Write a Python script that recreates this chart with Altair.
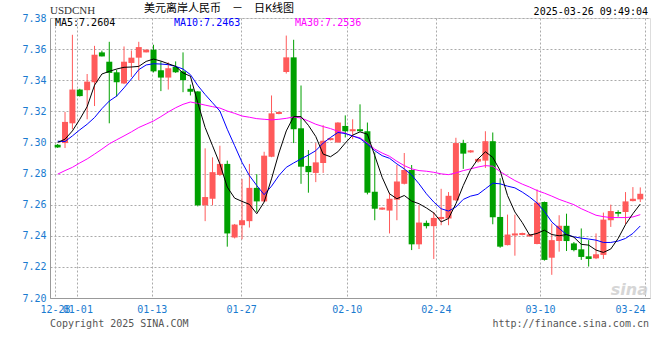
import json
import altair as alt
import pandas as pd

# ---------------- data ----------------
opens = [7.2985, 7.2996, 7.3123, 7.3340, 7.3336, 7.3387, 7.3579, 7.3519, 7.3451, 7.3379,
         7.3511, 7.3545, 7.3579, 7.3596, 7.3464, 7.3417, 7.3485, 7.3457, 7.3345, 7.3328,
         7.2596, 7.2638, 7.2791, 7.2862, 7.2389, 7.2468, 7.2494, 7.2708, 7.2621, 7.2908,
         7.3183, 7.3453, 7.3547, 7.3091, 7.2849, 7.2804, 7.2868, 7.3015, 7.3000, 7.3106,
         7.3072, 7.3085, 7.3072, 7.2683, 7.2568, 7.2562, 7.2632, 7.2734, 7.2823, 7.2345,
         7.2483, 7.2462, 7.2508, 7.2511, 7.2628, 7.2996, 7.2936, 7.2877, 7.2883, 7.3008,
         7.2521, 7.2340, 7.2402, 7.2405, 7.2396, 7.2347, 7.2617, 7.2259, 7.2366, 7.2464,
         7.2351, 7.2313, 7.2268, 7.2255, 7.2277, 7.2500, 7.2553, 7.2553, 7.2623, 7.2634]

closes = [7.2968, 7.3132, 7.3340, 7.3298, 7.3391, 7.3564, 7.3553, 7.3447, 7.3387, 7.3519,
          7.3545, 7.3613, 7.3596, 7.3457, 7.3417, 7.3477, 7.3451, 7.3400, 7.3326, 7.2596,
          7.2649, 7.2809, 7.2862, 7.2415, 7.2472, 7.2500, 7.2708, 7.2621, 7.2915, 7.3187,
          7.3196, 7.3547, 7.3085, 7.2844, 7.2809, 7.2872, 7.3011, 7.3028, 7.3128, 7.3072,
          7.3085, 7.3072, 7.2677, 7.2574, 7.2581, 7.2638, 7.2749, 7.2823, 7.2345, 7.2485,
          7.2462, 7.2515, 7.2521, 7.2657, 7.2996, 7.2928, 7.2949, 7.2894, 7.3008, 7.2519,
          7.2330, 7.2408, 7.2415, 7.2418, 7.2409, 7.2613, 7.2245, 7.2372, 7.2464, 7.2366,
          7.2308, 7.2264, 7.2251, 7.2281, 7.2504, 7.2559, 7.2542, 7.2621, 7.2638, 7.2670]

highs = [7.2990, 7.3196, 7.3692, 7.3345, 7.3440, 7.3621, 7.3590, 7.3647, 7.3468, 7.3617,
         7.3591, 7.3647, 7.3600, 7.3628, 7.3521, 7.3515, 7.3521, 7.3579, 7.3372, 7.3330,
         7.2962, 7.2904, 7.2979, 7.2883, 7.2476, 7.2766, 7.2862, 7.2796, 7.2940, 7.3302,
         7.3198, 7.3687, 7.3660, 7.3366, 7.2951, 7.2996, 7.3111, 7.3030, 7.3130, 7.3174,
         7.3149, 7.3245, 7.3128, 7.2936, 7.2583, 7.2677, 7.2855, 7.2932, 7.2855, 7.2596,
         7.2498, 7.2553, 7.2702, 7.2681, 7.3030, 7.3017, 7.2951, 7.2900, 7.3072, 7.3064,
         7.2770, 7.2536, 7.2536, 7.2420, 7.2411, 7.2698, 7.2620, 7.2479, 7.2532, 7.2542,
         7.2360, 7.2447, 7.2372, 7.2415, 7.2549, 7.2600, 7.2564, 7.2681, 7.2713, 7.2711]

lows = [7.2965, 7.2964, 7.3085, 7.3295, 7.3149, 7.3234, 7.3553, 7.3123, 7.3294, 7.3375,
        7.3421, 7.3400, 7.3579, 7.3450, 7.3330, 7.3340, 7.3447, 7.3323, 7.3302, 7.2589,
        7.2494, 7.2596, 7.2785, 7.2330, 7.2383, 7.2377, 7.2453, 7.2553, 7.2617, 7.2905,
        7.3181, 7.3443, 7.2996, 7.2734, 7.2677, 7.2745, 7.2804, 7.3013, 7.2998, 7.3032,
        7.3021, 7.3070, 7.2666, 7.2500, 7.2566, 7.2415, 7.2500, 7.2730, 7.2308, 7.2315,
        7.2447, 7.2251, 7.2468, 7.2468, 7.2624, 7.2830, 7.2934, 7.2870, 7.2836, 7.2474,
        7.2323, 7.2338, 7.2272, 7.2403, 7.2394, 7.2345, 7.2240, 7.2149, 7.2298, 7.2302,
        7.2300, 7.2245, 7.2202, 7.2250, 7.2251, 7.2457, 7.2523, 7.2472, 7.2621, 7.2617]

ma5 = [7.3000, 7.3021, 7.3074, 7.3149, 7.3230, 7.3368, 7.3440, 7.3457, 7.3472, 7.3483,
       7.3485, 7.3489, 7.3521, 7.3536, 7.3523, 7.3506, 7.3489, 7.3447, 7.3426, 7.3255,
       7.3096, 7.2979, 7.2862, 7.2713, 7.2642, 7.2621, 7.2602, 7.2542, 7.2617, 7.2766,
       7.2932, 7.3074, 7.3166, 7.3166, 7.3110, 7.3038, 7.2925, 7.2908, 7.2940, 7.2996,
       7.3047, 7.3068, 7.3053, 7.2915, 7.2776, 7.2670, 7.2638, 7.2659, 7.2623, 7.2606,
       7.2579, 7.2547, 7.2489, 7.2511, 7.2606, 7.2723, 7.2826, 7.2894, 7.2940, 7.2904,
       7.2819, 7.2659, 7.2553, 7.2485, 7.2404, 7.2415, 7.2436, 7.2408, 7.2400, 7.2408,
       7.2391, 7.2345, 7.2340, 7.2308, 7.2293, 7.2315, 7.2383, 7.2472, 7.2542, 7.2604]

ma10 = [7.3008, 7.3006, 7.3042, 7.3081, 7.3117, 7.3160, 7.3217, 7.3266, 7.3298, 7.3351,
        7.3408, 7.3468, 7.3498, 7.3506, 7.3504, 7.3500, 7.3489, 7.3472, 7.3436, 7.3366,
        7.3308, 7.3255, 7.3202, 7.3085, 7.2979, 7.2872, 7.2787, 7.2723, 7.2664, 7.2719,
        7.2787, 7.2840, 7.2868, 7.2894, 7.2919, 7.2947, 7.2996, 7.3032, 7.3064, 7.3057,
        7.3042, 7.3025, 7.2989, 7.2947, 7.2915, 7.2898, 7.2862, 7.2830, 7.2791, 7.2734,
        7.2670, 7.2617, 7.2574, 7.2559, 7.2585, 7.2634, 7.2655, 7.2666, 7.2702, 7.2738,
        7.2734, 7.2719, 7.2708, 7.2681, 7.2649, 7.2611, 7.2557, 7.2489, 7.2447, 7.2408,
        7.2393, 7.2385, 7.2379, 7.2372, 7.2357, 7.2357, 7.2366, 7.2383, 7.2415, 7.2463]

ma30 = [7.2796, 7.2819, 7.2840, 7.2868, 7.2894, 7.2925, 7.2957, 7.2991, 7.3017, 7.3042,
        7.3068, 7.3096, 7.3117, 7.3138, 7.3166, 7.3196, 7.3223, 7.3245, 7.3260, 7.3251,
        7.3240, 7.3230, 7.3221, 7.3202, 7.3187, 7.3170, 7.3162, 7.3153, 7.3149, 7.3145,
        7.3149, 7.3155, 7.3164, 7.3157, 7.3138, 7.3117, 7.3102, 7.3089, 7.3072, 7.3060,
        7.3040, 7.3030, 7.2996, 7.2957, 7.2932, 7.2911, 7.2879, 7.2851, 7.2830, 7.2819,
        7.2815, 7.2808, 7.2798, 7.2793, 7.2804, 7.2819, 7.2830, 7.2842, 7.2851, 7.2847,
        7.2813, 7.2783, 7.2755, 7.2732, 7.2713, 7.2691, 7.2674, 7.2655, 7.2634, 7.2617,
        7.2600, 7.2574, 7.2553, 7.2532, 7.2523, 7.2517, 7.2517, 7.2517, 7.2521, 7.2536]

tick_pos = [-0.36, 2.67, 12.75, 24.88, 39.2, 51.28, 65.41, 79.64]
tick_labels = ["12-28", "01-01", "01-13", "01-27", "02-10", "02-24", "03-10", "03-24"]
y_ticks = [7.20, 7.22, 7.24, 7.26, 7.28, 7.30, 7.32, 7.34, 7.36, 7.38]

symbol = "USDCNH"
title_text = "美元离岸人民币　－　日K线图"
timestamp = "2025-03-26 09:49:04"
ma_labels = ["MA5:7.2604", "MA10:7.2463", "MA30:7.2536"]
copyright_text = "Copyright 2025 SINA.COM"
url_text = "http://finance.sina.com.cn"

# ---------------- chart ----------------
df = pd.DataFrame({
    "i": list(range(len(opens))),
    "open": opens, "high": highs, "low": lows, "close": closes,
    "ma5": ma5, "ma10": ma10, "ma30": ma30,
})
df["dir"] = ["up" if c >= o else "down" for o, c in zip(opens, closes)]

RED = "#FF5A5A"
GREEN = "#00A000"
BLUE_TXT = "#1A7BD0"
MONO = "DejaVu Sans Mono"

x_scale = alt.Scale(domain=[-0.36, 79.64], nice=False, zero=False)
y_scale = alt.Scale(domain=[7.20, 7.38], nice=False, zero=False)
color = alt.Color("dir:N", scale=alt.Scale(domain=["up", "down"], range=[RED, GREEN]), legend=None)

label_expr = f"{json.dumps(tick_labels)}[indexof({json.dumps(tick_pos)}, datum.value)]"

x_axis = alt.Axis(values=tick_pos, labelExpr=label_expr, grid=True, gridDash=[2, 2],
                  gridColor="#aaaaaa", ticks=False, domainColor="#999999",
                  labelColor=BLUE_TXT, labelFont=MONO, labelFontSize=10, labelPadding=6,
                  labelOverlap=False, labelFlush=False,
                  labelAlign={"condition": {"test": "datum.value > 79", "value": "right"},
                              "value": "center"},
                  title=None)
y_axis = alt.Axis(values=y_ticks, format=".2f", grid=True, gridDash=[2, 2],
                  gridColor="#aaaaaa", ticks=False, domainColor="#999999",
                  labelColor=BLUE_TXT, labelFont=MONO, labelFontSize=10, labelPadding=4,
                  labelOverlap=False, labelFlush=False, labelSeparation=0, title=None)

base = alt.Chart(df).encode(x=alt.X("i:Q", scale=x_scale, axis=x_axis))


def yenc(field):
    return alt.Y(f"{field}:Q", scale=y_scale, axis=y_axis)


wicks = base.mark_rule(strokeWidth=1).encode(y=yenc("low"), y2="high:Q", color=color)
bodies = base.mark_bar(size=6).encode(y=yenc("open"), y2="close:Q", color=color)
l30 = base.mark_line(color="#FF00FF", strokeWidth=1).encode(y=yenc("ma30"))
l10 = base.mark_line(color="#0000FF", strokeWidth=1).encode(y=yenc("ma10"))
l5 = base.mark_line(color="#000000", strokeWidth=1).encode(y=yenc("ma5"))


def label(text, x, y, align="left", color="#000000", font=MONO, size=10, weight="normal",
          style="normal", opacity=1.0):
    return alt.Chart(pd.DataFrame({"t": [text]})).mark_text(
        align=align, baseline="middle", font=font, fontSize=size, color=color,
        fontWeight=weight, fontStyle=style, opacity=opacity
    ).encode(x=alt.value(x), y=alt.value(y), text="t:N")


texts = [
    label(symbol, 0, -7, font="Liberation Serif", size=11, color="#333333"),
    label(title_text, 169, -9, align="center", font="Noto Sans CJK SC", size=11),
    label(timestamp, 598, -6, align="right"),
    label(ma_labels[0], 5, 5, color="#000000"),
    label(ma_labels[1], 124, 5, color="#0000FF"),
    label(ma_labels[2], 245, 5, color="#FF00FF"),
    label(copyright_text, 0, 306, color="#555555"),
    label(url_text, 599, 306, align="right", color="#555555"),
    label("sina", 598, 272, align="right", font="DejaVu Sans", size=16, weight="bold",
          style="italic", color="#cccccc", opacity=0.8),
]

chart = alt.layer(wicks, bodies, l30, l10, l5, *texts).properties(
    width=600, height=280,
    autosize=alt.AutoSizeParams(type="none"),
    padding={"left": 50, "top": 18, "right": 10, "bottom": 62},
).configure_view(
    stroke="#999999", strokeWidth=1
).configure(background="white")

chart.save("out.html", embed_options={"renderer": "svg", "actions": False})
